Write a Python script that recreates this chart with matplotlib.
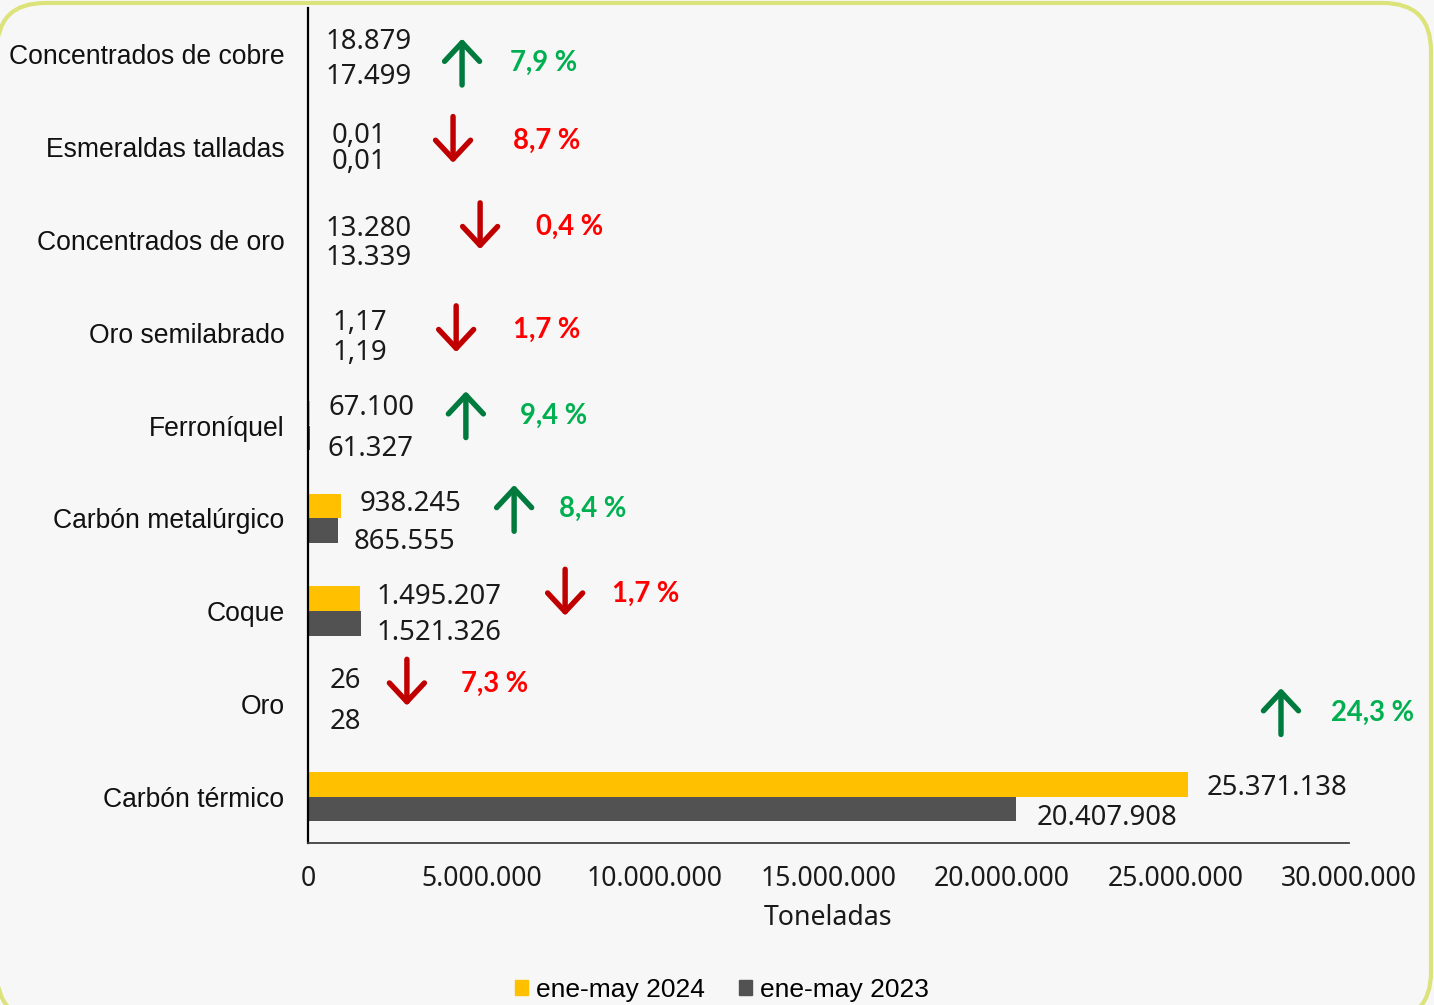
import matplotlib
matplotlib.use("Agg")
import matplotlib.pyplot as plt
from matplotlib.patches import FancyBboxPatch, Patch
import numpy as np

# datos
categorias = ["Concentrados de cobre", "Esmeraldas talladas", "Concentrados de oro",
              "Oro semilabrado", "Ferroníquel", "Carbón metalúrgico", "Coque", "Oro",
              "Carbón térmico"]
val_2024 = [18879, 0.01, 13280, 1.17, 67100, 938245, 1495207, 26, 25371138]
val_2023 = [17499, 0.01, 13339, 1.19, 61327, 865555, 1521326, 28, 20407908]
lab_2024 = ["18.879", "0,01", "13.280", "1,17", "67.100", "938.245", "1.495.207", "26", "25.371.138"]
lab_2023 = ["17.499", "0,01", "13.339", "1,19", "61.327", "865.555", "1.521.326", "28", "20.407.908"]
variacion = ["7,9 %", "8,7 %", "0,4 %", "1,7 %", "9,4 %", "8,4 %", "1,7 %", "7,3 %", "24,3 %"]
sube = [True, False, False, False, True, True, False, False, True]
ticks = [0, 5e6, 10e6, 15e6, 20e6, 25e6, 30e6]
tick_labels = ["0", "5.000.000", "10.000.000", "15.000.000", "20.000.000", "25.000.000", "30.000.000"]

# posiciones de etiquetas y flechas (movidas a mano en el original)
dx_2024 = [17, 24, 17, 24, 18, 19, 17, 22, 18]
dy_2024 = [-3, -2, -2, 0, -8, -5, -5, -14, 1]
dx_2023 = [17, 24, 17, 24, 17, 16, 16, 22, 20]
dy_2023 = [7, 0, 3, 5, 8, 8, 7, 3, 6]
flecha_x = [4.44e6, 4.18e6, 4.96e6, 4.27e6, 4.55e6, 5.94e6, 7.41e6, 2.85e6, 28.04e6]
flecha_dy = [0.08, -0.08, -0.15, -0.04, -0.12, -0.11, -0.2, -0.23, -0.92]
pct_dx = [48, 60, 56, 57, 54, 45, 47, 54, 50]

AMARILLO = "#ffc000"
GRIS = "#525252"
VERDE_F = "#007a3d"
ROJO_F = "#c00000"
VERDE_T = "#00b050"
ROJO_T = "#ff0000"

fig = plt.figure(figsize=(14.34, 10.05), dpi=100, facecolor="#f7f7f7")

# marco redondeado de fondo (se pasa a polilinea para evitar problemas de recorte)
bg = fig.add_axes([0, 0, 1, 1], zorder=-1)
bg.set_xlim(0, 1434)
bg.set_ylim(0, 1005)
bg.axis("off")
caja = FancyBboxPatch((-3, -15), 1434, 1017, boxstyle="round,pad=0,rounding_size=48")
for poly in caja.get_path().to_polygons(closed_only=False):
    bg.plot(poly[:, 0], poly[:, 1], color="#dbe37a", lw=3, solid_joinstyle="round")

ax = fig.add_axes([308 / 1434, 162 / 1005, 1041 / 1434, 835 / 1005])
ax.set_facecolor("none")

y = np.arange(len(categorias))
h = 0.265
ax.barh(y - h / 2, val_2024, height=h, color=AMARILLO, label="ene-may 2024")
ax.barh(y + h / 2, val_2023, height=h, color=GRIS, label="ene-may 2023")

ax.set_xlim(0, 30e6)
ax.set_ylim(8.5, -0.5)

num_font = dict(family="Noto Sans", size=19.8, color="#1a1a1a")
for i in range(len(categorias)):
    ax.annotate(lab_2024[i], (val_2024[i], y[i] - h / 2), xytext=(dx_2024[i], -dy_2024[i] - 3),
                textcoords="offset pixels", ha="left", va="center", **num_font)
    ax.annotate(lab_2023[i], (val_2023[i], y[i] + h / 2), xytext=(dx_2023[i], -dy_2023[i] - 3),
                textcoords="offset pixels", ha="left", va="center", **num_font)

    yc = y[i] + flecha_dy[i]
    L = 0.5
    if sube[i]:
        tip, tail, col, tcol = yc - L / 2, yc + L / 2, VERDE_F, VERDE_T
    else:
        tip, tail, col, tcol = yc + L / 2, yc - L / 2, ROJO_F, ROJO_T
    ax.annotate("", xy=(flecha_x[i], tip), xytext=(flecha_x[i], tail),
                arrowprops=dict(arrowstyle="->,head_length=0.45,head_width=0.42",
                                color=col, lw=3.9, mutation_scale=30,
                                shrinkA=0, shrinkB=0))
    ax.annotate(variacion[i], (flecha_x[i], yc - 0.02), xytext=(pct_dx[i], -3),
                textcoords="offset pixels", ha="left", va="center",
                family="Lato", fontweight="bold", size=19.8, color=tcol)

ax.set_yticks(y)
ax.set_yticklabels(categorias, family="Liberation Sans", size=19.1, color="#111111")
ax.set_xticks(ticks)
ax.set_xticklabels(tick_labels, family="Noto Sans", size=19.2, color="#1a1a1a")
ax.tick_params(axis="y", length=0, pad=17)
ax.tick_params(axis="x", length=0, pad=16)
ax.set_xlabel("Toneladas", family="Noto Sans", size=19.2, color="#1a1a1a", labelpad=8)

for s in ["top", "right"]:
    ax.spines[s].set_visible(False)
ax.spines["left"].set_color("#000000")
ax.spines["left"].set_linewidth(1.6)
ax.spines["bottom"].set_color("#404040")
ax.spines["bottom"].set_linewidth(1.3)

handles = [Patch(color=AMARILLO), Patch(color=GRIS)]
fig.legend(handles, ["ene-may 2024", "ene-may 2023"], loc="center",
           bbox_to_anchor=(722 / 1434, 1 - 990 / 1005), ncol=2, frameon=False,
           prop=dict(family="Liberation Sans", size=19), handlelength=0.5,
           handleheight=0.5, handletextpad=0.3, columnspacing=1.3)

fig.savefig("out.png", dpi=100, facecolor=fig.get_facecolor())
